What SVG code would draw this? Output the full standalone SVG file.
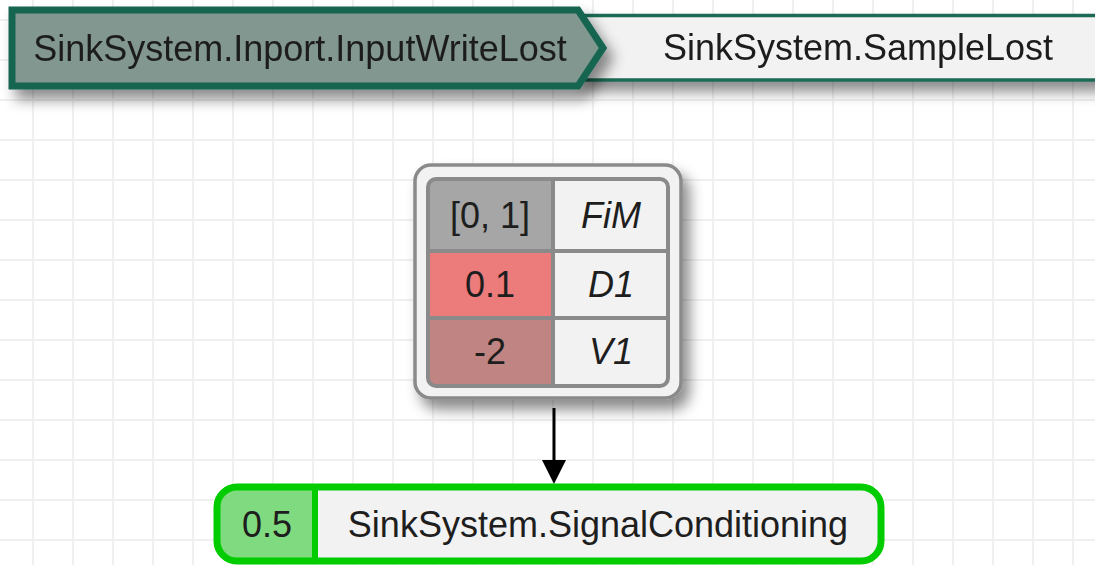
<svg xmlns="http://www.w3.org/2000/svg" width="1095" height="565" viewBox="0 0 1095 565">
<style>
.t{font-family:"Liberation Sans",Arial,sans-serif;font-size:36px;fill:#1e1e1e;text-anchor:middle}
.i{font-style:italic}
.cellline{stroke:#8a8a8a;stroke-width:4;fill:none}
</style>
<defs>
<pattern id="grid" patternUnits="userSpaceOnUse" x="32" y="19" width="40" height="40">
<path d="M1,0 V40 M0,1 H40" stroke="#f0f0f0" stroke-width="2" fill="none"/>
</pattern>
<filter id="sh" x="-10%" y="-20%" width="130%" height="170%">
<feDropShadow dx="7" dy="10" stdDeviation="7" flood-color="#000" flood-opacity="0.45"/>
</filter>
<clipPath id="tclip"><rect x="428" y="179" width="240" height="207" rx="8"/></clipPath>
<clipPath id="bclip"><rect x="217" y="487" width="664" height="74" rx="20"/></clipPath>
<marker id="arr" markerUnits="userSpaceOnUse" markerWidth="24" markerHeight="24" viewBox="0 0 24 24" refX="10" refY="12" orient="auto">
<path d="M0,0 L24,12 L0,24 z" fill="#000"/>
</marker>
</defs>
<rect width="1095" height="565" fill="#fff"/>
<rect width="1095" height="565" fill="url(#grid)"/>

<g id="node-samplelost" filter="url(#sh)">
<rect x="580" y="15.5" width="560" height="64.5" fill="#f2f2f2" stroke="#1d6b55" stroke-width="3.5"/>
<text class="t" x="858" y="60">SinkSystem.SampleLost</text>
</g>

<g id="node-inputwritelost" filter="url(#sh)">
<polygon points="12,10 578,10 603,48 578,86 12,86" fill="#81978f" stroke="#186551" stroke-width="7"/>
<text class="t" x="300" y="61">SinkSystem.Inport.InputWriteLost</text>
</g>

<g id="node-table">
<rect x="415" y="165" width="266" height="233" rx="16" fill="#f2f2f2" stroke="#8a8a8a" stroke-width="3.5" filter="url(#sh)"/>
<g clip-path="url(#tclip)">
<rect x="428" y="179" width="125" height="72" fill="#a6a6a6"/>
<rect x="428" y="251" width="125" height="67" fill="#ec7b7b"/>
<rect x="428" y="318" width="125" height="68" fill="#c08582"/>
<rect x="553" y="179" width="115" height="207" fill="#f2f2f2"/>
</g>
<rect class="cellline" x="428" y="179" width="240" height="207" rx="8"/>
<path class="cellline" d="M553,179 V386 M428,251 H668 M428,318 H668"/>
<text class="t" x="490" y="228">[0, 1]</text>
<text class="t i" x="611" y="228">FiM</text>
<text class="t" x="490" y="297">0.1</text>
<text class="t i" x="611" y="297">D1</text>
<text class="t" x="490" y="364">-2</text>
<text class="t i" x="611" y="364">V1</text>
</g>

<g id="connectors">
<line x1="554" y1="408" x2="554" y2="470" stroke="#000" stroke-width="3" marker-end="url(#arr)"/>
</g>

<g id="node-signalconditioning">
<rect x="217" y="487" width="664" height="74" rx="20" fill="#f2f2f2"/>
<g clip-path="url(#bclip)"><rect x="217" y="487" width="98" height="74" fill="#80da80"/></g>
<line x1="315" y1="487" x2="315" y2="561" stroke="#00cc00" stroke-width="6"/>
<rect x="217" y="487" width="664" height="74" rx="20" fill="none" stroke="#00cc00" stroke-width="7"/>
<text class="t" x="267" y="537">0.5</text>
<text class="t" x="598" y="537">SinkSystem.SignalConditioning</text>
</g>
</svg>
